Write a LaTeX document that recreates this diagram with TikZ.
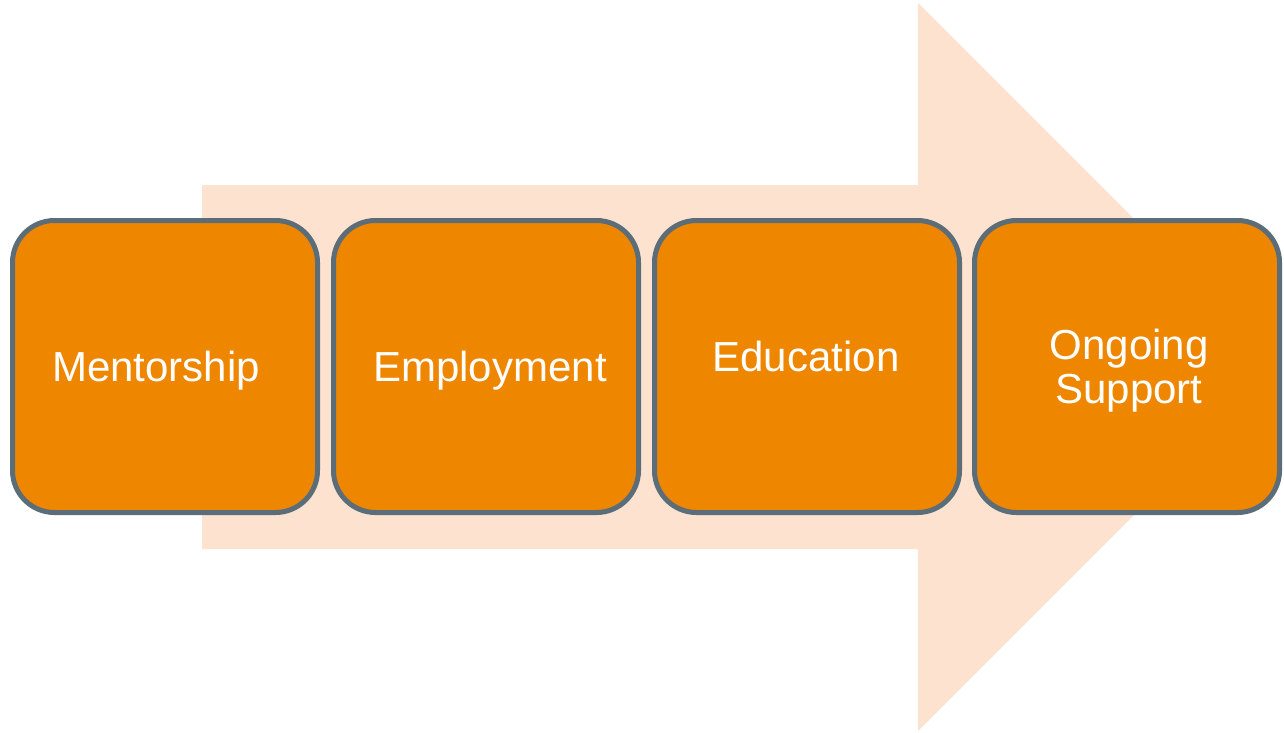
\documentclass[tikz,border=0pt]{standalone}
\usepackage{fontspec}
\setmainfont{Liberation Sans}
\definecolor{peach}{HTML}{FDE2CF}
\definecolor{boxorange}{HTML}{EE8600}
\definecolor{boxborder}{HTML}{5B6D78}
\begin{document}
\begin{tikzpicture}[x=1pt,y=-1pt,
  stepbox/.style={draw=boxborder, line width=5pt, fill=boxorange, rounded corners=42pt,
    minimum width=305pt, minimum height=292pt, inner sep=0pt},
  label/.style={text=white, font=\fontsize{42}{44}\selectfont, align=center, anchor=base}]
\useasboundingbox (0,0) rectangle (1284,732);
\fill[peach] (202,185) -- (918,185) -- (918,3) -- (1282,367) -- (918,731) -- (918,549) -- (202,549) -- cycle;
\node[stepbox] (b1) at (165,366.5) {};
\node[stepbox] (b2) at (486,366.5) {};
\node[stepbox] (b3) at (807,366.5) {};
\node[stepbox] (b4) at (1127,366.5) {};
\node[label] (t1) at (156,381) {Mentorship};
\node[label] (t2) at (490,381) {Employment};
\node[label] (t3) at (806,371) {Education};
\node[label] (t4) at (1129,359) {Ongoing};
\node[label] (t5) at (1129,403) {Support};
\end{tikzpicture}
\end{document}
